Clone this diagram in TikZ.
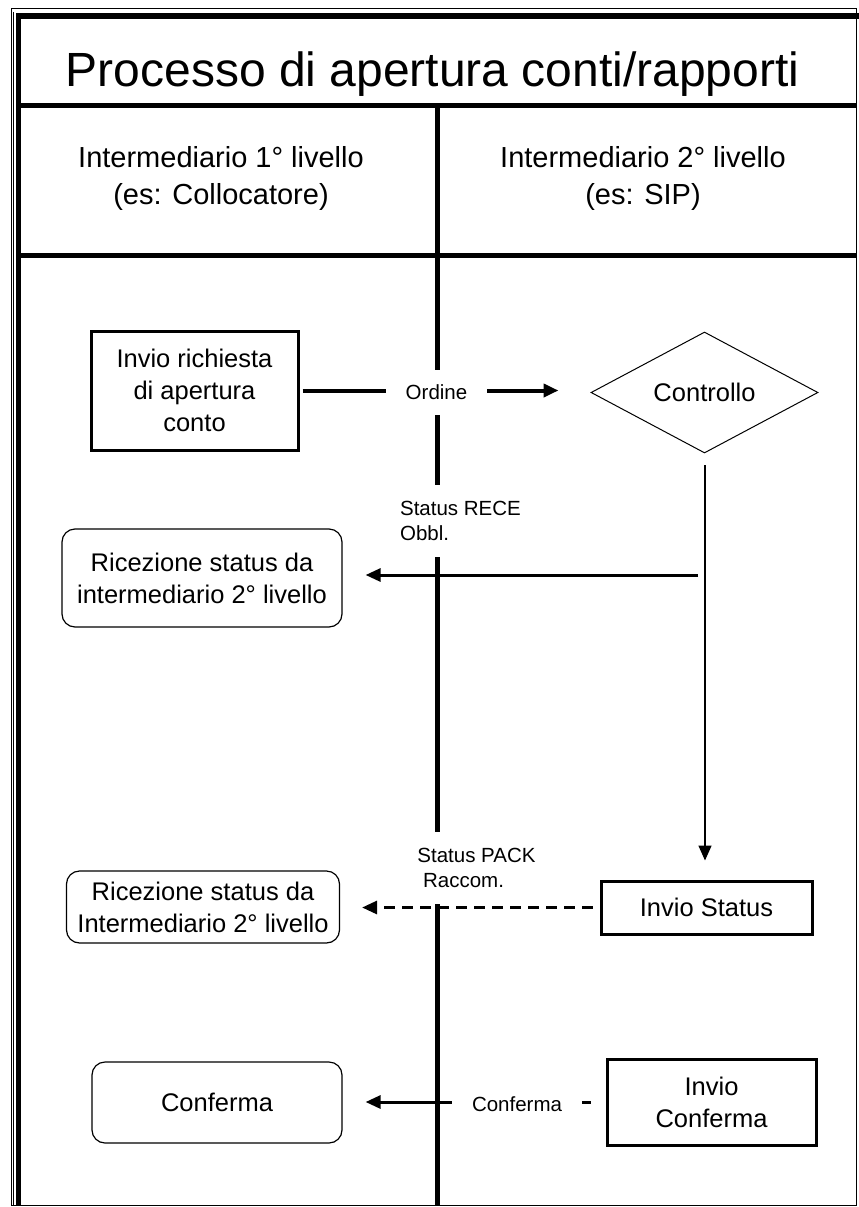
\documentclass[tikz,border=0pt]{standalone}
\usepackage{fontspec}
\setmainfont{Liberation Sans}
\usetikzlibrary{shapes.geometric,arrows.meta}
\begin{document}
\begin{tikzpicture}[x=1pt, y=-1pt,
    >={Triangle[length=15pt,width=13pt]},
    big/.style={font=\fontsize{25.5}{32}\selectfont, align=center, inner sep=0pt},
    task/.style={big, draw, line width=3pt},
    recv/.style={big, draw, line width=1.2pt, rounded corners=13pt},
    check/.style={big, diamond, draw, line width=1pt, shape aspect=2},
    head/.style={font=\fontsize{29}{37}\selectfont, align=center},
    msg/.style={font=\fontsize{20.5}{25}\selectfont, fill=white, inner xsep=20pt, inner ysep=15pt},
    rulebar/.style={line width=5pt},
    flow/.style={line width=3pt}]

  \useasboundingbox (0,0) rectangle (859,1207);
  \draw [line width=1pt] (11,9) rectangle (856,1205.5);
  \draw [line width=0.8pt] (13.5,12) -- (13.5,1205.5);
  \fill (15.5,13) rectangle (21,1205.5);
  \fill (15.5,13) rectangle (859,19);
  \draw [rulebar] (21,105.5) -- (856,105.5);
  \draw [rulebar] (21,255) -- (856,255);
  \draw [rulebar] (437,108) -- (437,1206);

  \node (title) [anchor=base, font=\fontsize{48}{56}\selectfont] at (432.5,86) {Processo di apertura conti/rapporti};
  \node (lev1)  [head] at (221,178) {Intermediario 1° livello\\(es: Collocatore)};
  \node (lev2)  [head] at (643,178) {Intermediario 2° livello\\(es: SIP)};

  \node (req)   [task, minimum width=207pt, minimum height=119pt] at (194.5,390.5) {Invio richiesta\\di apertura\\conto};
  \node (ctrl)  [check, minimum width=227pt, minimum height=121pt] at (704.5,392.5) {Controllo};
  \node (rec1)  [recv, minimum width=280pt, minimum height=98pt] at (202,578) {Ricezione status da\\intermediario 2° livello};
  \node (stat)  [task, minimum width=211pt, minimum height=53pt] at (706.5,907.5) {Invio Status};
  \node (rec2)  [recv, minimum width=273pt, minimum height=72pt] at (203,907) {Ricezione status da\\Intermediario 2° livello};
  \node (conf)  [recv, minimum width=250pt, minimum height=81pt] at (217,1102.5) {Conferma};
  \node (iconf) [task, minimum width=209pt, minimum height=86pt] at (711.5,1102) {Invio\\Conferma};

  \coordinate (down) at (705,465);
  \coordinate (back) at (698,575);

  \draw [->, line width=4pt, shorten <=3pt, shorten >=32pt] (req.east) to (req.east -| ctrl.west);
  \draw [->, line width=1.5pt, shorten >=19pt] (down) to (down |- stat.north);
  \draw [->, flow, shorten >=23pt] (back) to (back -| rec1.east);
  \draw [->, flow, dash pattern=on 11pt off 7pt, shorten <=7pt, shorten >=22pt] (stat.west) to (stat.west -| rec2.east);
  \draw [->, flow, shorten <=15pt, shorten >=23pt] (iconf.west) to (iconf.west -| conf.east);

  \node (ord)  [msg] at (436.5,392.5) {Ordine};
  \node (rece) [msg, align=left, inner ysep=16pt] at (460.5,521) {Status RECE\\Obbl.};
  \node (pack) [msg, align=left, inner ysep=16pt] at (476.5,868) {Status PACK\\\hspace*{5.7pt}Raccom.};
  \node (cnf)  [msg] at (517,1104) {Conferma};
\end{tikzpicture}
\end{document}
